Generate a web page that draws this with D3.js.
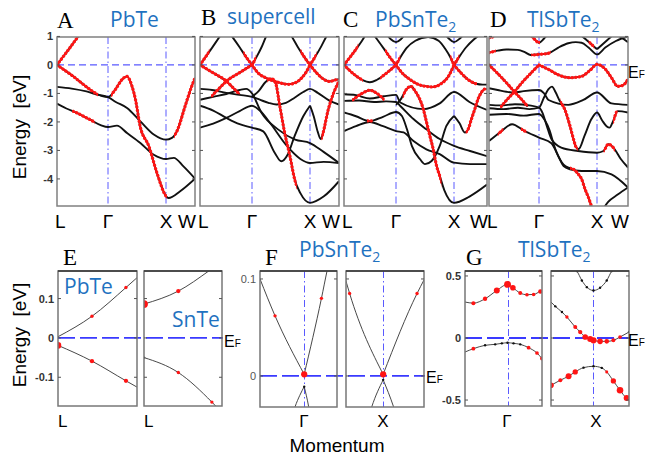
<!doctype html>
<html lang="en">
<head>
<meta charset="utf-8">
<script src="https://cdn.jsdelivr.net/npm/d3@7"></script>
<style>
  body {margin:0; background:#fff}
  svg {display:block}
  text {font-family:"Liberation Sans", Arial, sans-serif; fill:#000}
  .letter {font-family:"Liberation Serif", "Times New Roman", serif; font-size:23px}
  .title {font-family:"Open Sans", sans-serif; font-size:21px; fill:#1f72c0}
  .tick {font-size:11px; font-weight:bold; fill:#333}
  .klab {font-size:19px}
  .slab {font-size:17px}
  .ylab {font-size:19px}
</style>
</head>
<body>
<script>
// ---------- data ----------
const kNodes = [0, 0.866, 1.866, 2.366];
const kNames = ["L", "Γ", "X", "W"];
const eTicksTop = [1, 0, -1, -2, -3, -4];

// bands: pts = [k, E], red = k ranges with Pb/Sn/Tl s-p character
const bandsPbTe = [
  {pts:[[0,0],[0.12,0.33],[0.24,0.66],[0.36,1.0],[0.42,1.17]], red:[[0,0.5]]},
  {pts:[[0,0],[0.14,-0.2],[0.275,-0.4],[0.5,-0.77],[0.68,-1.02],[0.866,-1.13],[0.99,-0.87],[1.11,-0.51],[1.19,-0.4],[1.28,-0.75],[1.34,-1.22],[1.42,-2.15],[1.57,-2.85],[1.71,-3.79],[1.866,-4.6],[1.91,-4.67],[2.11,-4.43],[2.366,-3.99]], red:[[0,0.68],[0.935,1.866]]},
  {pts:[[0,-0.77],[0.25,-0.83],[0.5,-0.93],[0.7,-1.05],[0.866,-1.13],[1.0,-1.3],[1.194,-1.51],[1.424,-1.98],[1.655,-2.44],[1.866,-2.62],[1.968,-2.56],[2.053,-2.33],[2.195,-1.45],[2.309,-0.75],[2.366,-0.46]], red:[[2.02,2.366]]},
  {pts:[[0,-1.36],[0.15,-1.52],[0.333,-1.68],[0.562,-1.92],[0.75,-2.12],[0.866,-2.18],[1.02,-2.13],[1.2,-2.4],[1.424,-2.74],[1.655,-3.15],[1.866,-3.3],[2.0,-3.26],[2.167,-3.56],[2.366,-3.99]], red:[[0.275,0.62]]}
];

const bandsSupercell = [
  {pts:[[0,0],[0.1,0.3],[0.2,0.6],[0.33,1.0],[0.38,1.15]], red:[[0,0.14]]},
  {pts:[[0.48,1.15],[0.55,0.95],[0.66,0.62],[0.76,0.3],[0.866,0]], red:[[0.74,0.866]]},
  {pts:[[0.866,0],[0.95,0.3],[1.03,0.62],[1.11,1.0],[1.15,1.15]], red:[[0.866,0.92]]},
  {pts:[[1.5,1.15],[1.55,1.0],[1.65,0.65],[1.76,0.3],[1.866,0]], red:[[1.72,1.866]]},
  {pts:[[1.866,0],[1.96,0.3],[2.06,0.65],[2.15,1.0],[2.2,1.15]], red:[[1.866,1.96]]},
  {pts:[[0,0],[0.22,-0.28],[0.44,-0.57],[0.55,-0.8],[0.66,-1.03]], red:[[0,0.66]]},
  {pts:[[0.2,-1.08],[0.33,-0.8],[0.44,-0.57],[0.66,-0.27],[0.866,0]], red:[[0.2,0.866]]},
  {pts:[[0.866,0],[0.98,-0.3],[1.11,-0.46],[1.3,-0.6],[1.49,-0.68],[1.62,-0.62],[1.72,-0.46],[1.8,-0.25],[1.866,0]], red:[[0.866,1.866]]},
  {pts:[[1.866,0],[1.98,-0.28],[2.1,-0.5],[2.2,-0.58],[2.3,-0.53],[2.366,-0.5]], red:[[1.866,2.366]]},
  {pts:[[0.866,-1.12],[0.98,-0.92],[1.1,-0.6],[1.2,-0.48],[1.27,-0.62],[1.346,-1.45],[1.43,-2.39],[1.52,-3.2],[1.6,-4.0],[1.7,-4.5],[1.866,-4.84],[2.1,-4.62],[2.366,-4.08]], red:[[1.15,1.62]]},
  {pts:[[1.866,-1.43],[1.93,-1.8],[2.0,-2.35],[2.05,-2.6],[2.09,-2.39],[2.18,-1.57],[2.28,-0.95],[2.366,-0.57]], red:[[2.08,2.366]]},
  {pts:[[0,-0.84],[0.2,-0.88],[0.44,-0.98],[0.66,-1.05],[0.866,-1.12],[1.0,-1.22],[1.15,-1.33],[1.29,-1.39],[1.45,-1.33],[1.6,-1.15],[1.75,-0.95],[1.866,-0.84],[2.0,-0.98],[2.2,-1.25],[2.366,-1.39]], red:[]},
  {pts:[[0,-1.22],[0.22,-1.12],[0.44,-1.02],[0.66,-0.88],[0.77,-0.84],[0.866,-1.0],[1.03,-1.68],[1.32,-2.27],[1.61,-2.62],[1.866,-2.74],[2.1,-3.05],[2.366,-3.44]], red:[]},
  {pts:[[0,-1.43],[0.22,-1.6],[0.44,-1.86],[0.66,-2.08],[0.866,-2.2],[1.06,-2.33],[1.26,-3.09],[1.37,-3.38],[1.48,-3.15],[1.6,-2.5],[1.75,-1.8],[1.866,-1.43]], red:[]},
  {pts:[[0,-2.2],[0.22,-2.06],[0.44,-1.86],[0.66,-1.62],[0.866,-1.43],[1.0,-1.6],[1.2,-2.1],[1.45,-2.8],[1.7,-3.3],[1.866,-3.44],[2.1,-3.4],[2.366,-3.44]], red:[]}
];

const bandsPbSnTe2 = [
  {pts:[[0,0],[0.1,0.27],[0.2,0.55],[0.3,0.85],[0.36,1.05]], red:[[0,0.22]]},
  {pts:[[0.48,1.1],[0.55,0.9],[0.66,0.58],[0.76,0.28],[0.866,0]], red:[[0.7,0.866]]},
  {pts:[[0.7,1.1],[0.78,0.9],[0.866,0.8],[0.95,0.9],[1.03,1.1]], red:[]},
  {pts:[[1.7,1.1],[1.78,0.92],[1.866,0.8],[1.95,0.92],[2.03,1.1]], red:[]},
  {pts:[[0.866,0],[0.95,0.3],[1.05,0.6],[1.2,0.85],[1.42,0.98],[1.6,0.85],[1.72,0.55],[1.8,0.28],[1.866,0]], red:[[0.866,0.92],[1.82,1.866]]},
  {pts:[[1.866,0],[1.95,0.3],[2.05,0.62],[2.17,0.9],[2.25,1.05]], red:[[1.866,1.93]]},
  {pts:[[0,0],[0.15,-0.3],[0.3,-0.52],[0.43,-0.61],[0.55,-0.52],[0.7,-0.3],[0.866,0]], red:[[0,0.3],[0.62,0.866]]},
  {pts:[[0.866,0],[0.98,-0.3],[1.1,-0.5],[1.3,-0.72],[1.5,-0.77],[1.65,-0.65],[1.77,-0.4],[1.866,0]], red:[[0.866,1.866]]},
  {pts:[[1.866,0],[1.98,-0.3],[2.1,-0.55],[2.2,-0.66],[2.3,-0.69],[2.366,-0.69]], red:[[1.866,2.2]]},
  {pts:[[0.15,-1.22],[0.3,-1.0],[0.43,-0.89],[0.55,-1.0],[0.66,-1.2]], red:[[0.15,0.66]]},
  {pts:[[0.866,-1.4],[0.95,-1.2],[1.05,-0.85],[1.12,-0.75],[1.19,-0.9],[1.338,-1.56],[1.394,-2.02],[1.45,-2.49],[1.508,-2.96],[1.565,-3.54],[1.62,-3.89],[1.7,-4.4],[1.866,-4.84],[2.1,-4.62],[2.366,-4.2]], red:[[1.0,1.63]]},
  {pts:[[1.866,-1.79],[1.95,-2.05],[2.03,-2.37],[2.08,-2.26],[2.13,-1.9],[2.18,-1.56],[2.23,-1.2],[2.28,-0.97],[2.33,-0.85],[2.366,-0.85]], red:[[2.06,2.366]]},
  {pts:[[0,-1.03],[0.2,-1.06],[0.43,-1.18],[0.66,-1.1],[0.866,-1.05],[0.94,-1.32],[1.338,-1.55],[1.62,-1.35],[1.866,-0.95],[2.1,-1.3],[2.366,-1.58]], red:[]},
  {pts:[[0,-1.26],[0.25,-1.25],[0.5,-1.3],[0.7,-1.28],[0.866,-1.3],[0.94,-1.44],[1.167,-1.9],[1.39,-2.26],[1.62,-2.6],[1.866,-2.84],[2.11,-3.02],[2.366,-3.2]], red:[]},
  {pts:[[0,-1.67],[0.2,-1.8],[0.43,-1.97],[0.65,-1.82],[0.866,-1.65],[0.968,-1.79],[1.054,-2.25],[1.139,-2.84],[1.281,-3.31],[1.366,-3.48],[1.48,-3.37],[1.62,-2.84],[1.735,-2.14],[1.866,-1.79]], red:[[0.4,0.46]]},
  {pts:[[0,-2.32],[0.2,-2.15],[0.43,-2.0],[0.65,-2.15],[0.866,-2.32],[0.997,-2.37],[1.167,-2.67],[1.39,-2.96],[1.62,-3.13],[1.866,-3.43],[2.11,-3.48],[2.366,-3.48]], red:[]}
];

const bandsTlSbTe2 = [
  {pts:[[0,0.43],[0.15,0.5],[0.3,0.54],[0.5,0.53],[0.62,0.45],[0.72,0.35],[0.866,0.37],[1.03,0.41],[1.2,0.61],[1.37,0.76],[1.5,0.8],[1.6,0.78],[1.72,0.61],[1.866,0.37],[2.0,0.61],[2.17,0.84],[2.366,1.0]], red:[[0,0.1],[0.75,1.05]]},
  {pts:[[0,0.95],[0.08,1.0],[0.15,1.1]], red:[[0,0.15]]},
  {pts:[[0.7,1.1],[0.78,0.92],[0.866,0.78],[0.95,0.92],[1.03,1.1]], red:[[0.7,0.866]]},
  {pts:[[1.55,1.1],[1.7,0.85],[1.866,0.55]], red:[[1.74,1.8]]},
  {pts:[[1.866,0.55],[2.02,0.85],[2.15,1.1]], red:[]},
  {pts:[[2.2,1.05],[2.3,0.9],[2.366,0.8]], red:[]},
  {pts:[[0.866,0],[1.05,-0.18],[1.2,-0.35],[1.4,-0.45],[1.6,-0.4],[1.75,-0.18],[1.866,0.02],[2.0,-0.15],[2.1,-0.45],[2.2,-0.75],[2.28,-0.72],[2.366,-0.5]], red:[[0.866,2.366]]},
  {pts:[[0,0],[0.15,-0.3],[0.3,-0.62],[0.44,-0.94],[0.56,-1.2],[0.67,-1.46]], red:[[0,0.67]]},
  {pts:[[0.21,-1.46],[0.32,-1.2],[0.44,-0.94],[0.58,-0.6],[0.72,-0.3],[0.866,0]], red:[[0.21,0.866]]},
  {pts:[[0,-0.82],[0.15,-0.88],[0.3,-0.94],[0.44,-0.97],[0.6,-0.92],[0.866,-0.88],[0.95,-0.99],[1.03,-1.23],[1.37,-1.4],[1.63,-1.23],[1.866,-0.97],[2.1,-1.35],[2.366,-1.4]], red:[]},
  {pts:[[0,-1.4],[0.2,-1.42],[0.45,-1.38],[0.7,-1.42],[0.866,-1.5],[0.93,-1.7],[1.0,-2.14],[1.08,-2.6],[1.25,-2.9],[1.54,-3.02],[1.866,-3.08],[1.97,-3.02],[2.05,-2.78],[2.13,-2.9],[2.25,-3.3],[2.366,-3.6]], red:[[1.99,2.14]]},
  {pts:[[0,-1.52],[0.25,-1.55],[0.5,-1.5],[0.7,-1.55],[0.866,-1.5],[0.95,-1.15],[1.03,-0.85],[1.09,-0.76],[1.15,-0.95],[1.22,-1.25],[1.31,-1.56],[1.4,-2.14],[1.46,-2.6],[1.51,-2.9],[1.55,-2.95],[1.65,-2.49],[1.77,-1.9],[1.866,-1.67],[1.95,-1.95],[2.02,-2.15],[2.07,-2.2],[2.12,-2.0],[2.2,-1.62],[2.366,-1.67]], red:[[1.25,1.52],[2.14,2.18]]},
  {pts:[[0,-2.67],[0.2,-2.35],[0.4,-2.08],[0.6,-2.3],[0.866,-2.55],[1.08,-2.75],[1.2,-3.2],[1.29,-3.55],[1.4,-3.66],[1.6,-3.72],[1.866,-3.72],[2.1,-3.84],[2.366,-4.3]], red:[[0.17,0.23],[0.57,0.63]]},
  {pts:[[0,-1.75],[0.3,-1.72],[0.6,-1.78],[0.866,-1.72],[0.97,-1.95],[1.05,-2.3],[1.11,-2.72],[1.17,-3.07],[1.29,-3.5],[1.4,-3.62],[1.46,-3.66],[1.55,-3.85],[1.6,-4.0],[1.66,-4.36],[1.72,-4.66],[1.77,-4.95],[1.8,-5.1]], red:[[1.42,1.8]]},
  {pts:[[1.95,-5.1],[2.05,-4.8],[2.2,-4.55],[2.366,-4.3]], red:[]}
];

// small panels: [k, E, weight]; weight null = no marker, 0 = black marker
const eTicksE = [0.1, 0, -0.1];
const eTicksF = [0.1, 0];
const eTicksG = [0.5, 0, -0.5];
const bandsE_PbTe = [
  [[0,0.003,null],[0.43,0.055,0.15],[0.86,0.128,0.15],[1,0.153,null]],
  [[0,-0.019,0.65],[0.43,-0.059,0.3],[0.86,-0.109,0.3],[1,-0.125,null]]
];
const bandsE_SnTe = [
  [[0,0.086,0.85],[0.44,0.119,0.3],[0.83,0.17,null],[1,0.195,null]],
  [[0,-0.05,0],[0.44,-0.088,0.15],[0.87,-0.163,0.15],[1,-0.19,null]]
];
const bandsF_G = [
  [[-1,0.1,null],[-0.66,0.062,0.15],[0,0.0017,0.6]],
  [[0,0.0017,null],[0.39,0.08,0.15],[0.52,0.109,null],[0.6,0.125,null]],
  [[-0.3,-0.045,null],[-0.205,-0.0315,null],[-0.1,-0.02,null],[0,-0.011,0]],
  [[0,-0.011,null],[0.1,-0.0315,null],[0.15,-0.045,null]]
];
const bandsF_X = [
  [[-0.9,0.106,null],[-0.765,0.085,0.15],[0,0.0017,0.6]],
  [[0,0.0017,null],[0.773,0.085,0.15],[0.932,0.099,null]],
  [[-0.35,-0.045,null],[-0.258,-0.0315,null],[0,-0.004,0]],
  [[0,-0.004,null],[0.235,-0.0315,null],[0.33,-0.045,null]]
];
const bandsG_G = [
  [[-1,0.29,null],[-0.803,0.281,0.25],[-0.528,0.316,0.31],[-0.252,0.383,0.56],[0,0.432,0.69],[0.126,0.405,0.5],[0.299,0.362,0.25],[0.457,0.349,0.19],[0.614,0.351,0.19],[0.772,0.375,0.31],[0.811,0.378,null]],
  [[-1,-0.113,null],[-0.803,-0.086,0.22],[-0.528,-0.059,0],[-0.291,-0.051,0],[-0.134,-0.043,0],[0,-0.038,0],[0.142,-0.043,0],[0.299,-0.051,0],[0.496,-0.078,0.22],[0.693,-0.121,0.2],[0.811,-0.166,0.25]]
];
const bandsG_X = [
  [[-0.45,0.56,null],[-0.394,0.539,0],[-0.276,0.464,0],[-0.157,0.41,0],[0,0.383,0],[0.157,0.405,0],[0.315,0.464,0],[0.433,0.539,0],[0.48,0.56,null]],
  [[-1.008,0.29,null],[-0.906,0.255,0],[-0.748,0.209,0],[-0.63,0.169,0.15],[-0.433,0.088,0.25],[-0.315,0.048,0.3],[-0.197,0.008,0.5],[-0.079,-0.008,0.55],[0,-0.019,0.6],[0.157,-0.027,0.5],[0.315,-0.027,0.35],[0.472,-0.019,0.25],[0.63,0.008,0.2],[0.843,0.048,0]],
  [[-1.008,-0.381,0.5],[-0.787,-0.34,0.25],[-0.591,-0.308,0.55],[-0.433,-0.273,0.45],[-0.236,-0.239,0],[0,-0.228,0],[0.197,-0.241,0],[0.315,-0.273,0.1],[0.472,-0.346,0.45],[0.63,-0.421,0.65],[0.787,-0.483,0.55],[0.843,-0.49,null]]
];

// ---------- drawing ----------
const svg = d3.select("body").append("svg").attr("width", 645).attr("height", 459);
const defs = svg.append("defs");
const blue = "#5a5aff";
const gen = (x, y) => d3.line().x(d => x(d[0])).y(d => y(d[1])).curve(d3.curveMonotoneX);

const topY = d3.scaleLinear().domain([-4.95, 0.98]).range([206, 37]);
const topPanels = [
  {x:[57,108,166,195], bands:bandsPbTe},
  {x:[200,252,310,339], bands:bandsSupercell},
  {x:[344,396,454,487], bands:bandsPbSnTe2},
  {x:[489,539,597,628], bands:bandsTlSbTe2}
];

topPanels.forEach((p, pi) => {
  const x = d3.scaleLinear().domain(kNodes).range(p.x);
  const y = topY;
  const x0 = p.x[0], x1 = p.x[3], y0 = 37, y1 = 206;
  const g = svg.append("g");
  const fid = "fc" + pi;
  defs.append("clipPath").attr("id", fid).append("rect")
    .attr("x", x0).attr("y", y0).attr("width", x1 - x0).attr("height", y1 - y0);

  g.append("line").attr("x1", x0).attr("x2", x1).attr("y1", y(0)).attr("y2", y(0))
    .attr("stroke", blue).attr("stroke-width", 1.2).attr("stroke-dasharray", "7,4");
  [1, 2].forEach(i => g.append("line").attr("x1", x(kNodes[i])).attr("x2", x(kNodes[i]))
    .attr("y1", y0).attr("y2", y1).attr("stroke", blue).attr("stroke-width", 1)
    .attr("stroke-dasharray", "7,3,1.5,3"));

  const gb = g.append("g").attr("clip-path", `url(#${fid})`);
  const line = gen(x, y);
  p.bands.forEach(b => gb.append("path").attr("d", line(b.pts)).attr("fill", "none")
    .attr("stroke", "#111").attr("stroke-width", 1.9));
  p.bands.forEach((b, bi) => {
    if (!b.red.length) return;
    const cid = `rc${pi}_${bi}`;
    const cp = defs.append("clipPath").attr("id", cid);
    b.red.forEach(r => cp.append("rect").attr("x", x(r[0]) - 1).attr("y", y0 - 5)
      .attr("width", x(r[1]) - x(r[0]) + 2).attr("height", y1 - y0 + 10));
    const rg = gb.append("g").attr("clip-path", `url(#${cid})`);
    rg.append("path").attr("d", line(b.pts)).attr("fill", "none")
      .attr("stroke", "#ff1414").attr("stroke-width", 1.3);
    rg.append("path").attr("d", line(b.pts)).attr("fill", "none")
      .attr("stroke", "#ff1414").attr("stroke-width", 3.3)
      .attr("stroke-linecap", "round").attr("stroke-dasharray", "0.1,3.5");
  });

  g.append("rect").attr("x", x0).attr("y", y0).attr("width", x1 - x0).attr("height", y1 - y0)
    .attr("fill", "none").attr("stroke", "#808080").attr("stroke-width", 1.5);
  eTicksTop.forEach(t => {
    g.append("line").attr("x1", x0).attr("x2", x0 + 3).attr("y1", y(t)).attr("y2", y(t)).attr("stroke", "#555");
    g.append("line").attr("x1", x1 - 3).attr("x2", x1).attr("y1", y(t)).attr("y2", y(t)).attr("stroke", "#555");
  });
  if (pi === 0) {
    g.selectAll(".tick").data(eTicksTop).enter().append("text").attr("class", "tick")
      .attr("x", x0 - 4).attr("y", d => y(d)).attr("text-anchor", "end")
      .attr("dominant-baseline", "central").text(d => d);
  }
  // k labels
  g.append("text").attr("class", "klab").attr("x", x0 - 2).attr("y", 228).text(kNames[0]);
  g.append("text").attr("class", "klab").attr("x", x(kNodes[1])).attr("y", 228).attr("text-anchor", "middle").text(kNames[1]);
  g.append("text").attr("class", "klab").attr("x", x(kNodes[2])).attr("y", 228).attr("text-anchor", "middle").text(kNames[2]);
  g.append("text").attr("class", "klab").attr("x", x1 - 8).attr("y", 228).attr("text-anchor", "middle").text(kNames[3]);
});

// small panels
const smallPanels = [
  {x0:58, x1:137, y0:271, y1:406, kdom:[0,1], edom:[-0.173,0.17], bands:bandsE_PbTe, ticks:eTicksE, labels:true, kpt:null},
  {x0:144, x1:222, y0:271, y1:406, kdom:[0,1], edom:[-0.173,0.17], bands:bandsE_SnTe, ticks:eTicksE, labels:false, kpt:null},
  {x0:260, x1:337, y0:271, y1:407, kdom:[-1,0.742], edom:[-0.032,0.1082], bands:bandsF_G, ticks:eTicksF, labels:true, kpt:0},
  {x0:346, x1:424, y0:271, y1:407, kdom:[-0.848,0.932], edom:[-0.032,0.1082], bands:bandsF_X, ticks:eTicksF, labels:false, kpt:0},
  {x0:465, x1:542, y0:271, y1:406, kdom:[-1,0.811], edom:[-0.548,0.54], bands:bandsG_G, ticks:eTicksG, labels:true, kpt:0},
  {x0:551, x1:629, y0:271, y1:406, kdom:[-1.008,0.843], edom:[-0.548,0.54], bands:bandsG_X, ticks:eTicksG, labels:false, kpt:0}
];

smallPanels.forEach((p, pi) => {
  const x = d3.scaleLinear().domain(p.kdom).range([p.x0, p.x1]);
  const y = d3.scaleLinear().domain(p.edom).range([p.y1, p.y0]);
  const g = svg.append("g");
  const fid = "sc" + pi;
  defs.append("clipPath").attr("id", fid).append("rect")
    .attr("x", p.x0).attr("y", p.y0).attr("width", p.x1 - p.x0).attr("height", p.y1 - p.y0);
  if (p.kpt !== null) {
    const vx = Math.round(x(p.kpt)) + 0.5;
    g.append("line").attr("x1", vx).attr("x2", vx).attr("y1", p.y0).attr("y2", p.y1)
      .attr("stroke", blue).attr("stroke-width", 1).attr("stroke-dasharray", "7,3,1.5,3");
  }
  const gb = g.append("g").attr("clip-path", `url(#${fid})`);
  const line = gen(x, y);
  p.bands.forEach(b => {
    gb.append("path").attr("d", line(b)).attr("fill", "none").attr("stroke", "#333").attr("stroke-width", 0.9);
  });
  // zero line across the pair of frames
  if (pi % 2 === 0) {
    const nx = smallPanels[pi + 1];
    g.append("line").attr("x1", p.x0).attr("x2", nx.x1 + 1).attr("y1", y(0)).attr("y2", y(0))
      .attr("stroke", "#3a3aff").attr("stroke-width", 1.8).attr("stroke-dasharray", "17,5");
  }
  const gd = g.append("g").attr("clip-path", `url(#${fid})`);
  p.bands.forEach(b => {
    gd.selectAll(null).data(b.filter(d => d[2] !== null)).enter().append("circle")
      .attr("cx", d => x(d[0])).attr("cy", d => y(d[1]))
      .attr("r", d => d[2] === 0 ? 1.2 : 1.2 + 3.2 * d[2])
      .attr("fill", d => d[2] === 0 ? "#111" : "#ff1414");
  });
  g.append("rect").attr("x", p.x0).attr("y", p.y0).attr("width", p.x1 - p.x0).attr("height", p.y1 - p.y0)
    .attr("fill", "none").attr("stroke", "#777").attr("stroke-width", 1.5);
  g.append("line").attr("x1", p.x0).attr("x2", p.x1).attr("y1", p.y0).attr("y2", p.y0)
    .attr("stroke", "#333").attr("stroke-width", 1.6);
  p.ticks.forEach(t => {
    g.append("line").attr("x1", p.x0).attr("x2", p.x0 + 3).attr("y1", y(t)).attr("y2", y(t)).attr("stroke", "#555");
    g.append("line").attr("x1", p.x1 - 3).attr("x2", p.x1).attr("y1", y(t)).attr("y2", y(t)).attr("stroke", "#555");
  });
  if (p.labels) {
    g.selectAll(null).data(p.ticks).enter().append("text").attr("class", "tick")
      .attr("x", p.x0 - 4).attr("y", d => y(d)).attr("text-anchor", "end")
      .attr("dominant-baseline", "central")
      .style("font-weight", pi === 2 ? "normal" : "bold")
      .style("fill", pi === 2 ? "#555" : "#333")
      .text(d => d);
  }
});

// bottom k labels
svg.append("text").attr("class", "slab").attr("x", 58).attr("y", 427).text("L");
svg.append("text").attr("class", "slab").attr("x", 144).attr("y", 427).text("L");
[[304, "Γ"], [383, "X"], [507, "Γ"], [596, "X"]].forEach(d =>
  svg.append("text").attr("class", "slab").attr("x", d[0]).attr("y", 427).attr("text-anchor", "middle").text(d[1]));
svg.append("text").attr("class", "ylab").attr("x", 337).attr("y", 452).attr("text-anchor", "middle").text("Momentum");

// y labels
[127, 335].forEach(cy => svg.append("text").attr("class", "ylab")
  .attr("transform", `translate(19,${cy}) rotate(-90)`).attr("text-anchor", "middle")
  .attr("dominant-baseline", "central").text("Energy\u00a0\u00a0[eV]"));

// panel letters
[["A",57,28],["B",201,25],["C",343,27],["D",490,27],["E",63,265],["F",265,265],["G",466,265]].forEach(d =>
  svg.append("text").attr("class", "letter").attr("x", d[1]).attr("y", d[2]).text(d[0]));

// titles
function title(x, y, main, sub) {
  const t = svg.append("text").attr("class", "title").attr("x", x).attr("y", y).text(main);
  if (sub) t.append("tspan").attr("dy", 5).style("font-size", "14px").text(sub);
}
title(110, 27, "PbTe");
title(227, 24, "supercell");
title(375, 27, "PbSnTe", "2");
title(527, 27, "TlSbTe", "2");
title(64, 294, "PbTe");
title(172, 327, "SnTe");
title(299, 257, "PbSnTe", "2");
title(518, 257, "TlSbTe", "2");

// E_F labels
function ef(x, y) {
  const t = svg.append("text").attr("x", x).attr("y", y).style("font-size", "16px").text("E");
  t.append("tspan").style("font-size", "10px").text("F");
}
ef(628, 78);
ef(224, 347);
ef(426, 383);
ef(628, 346);
</script>
</body>
</html>
